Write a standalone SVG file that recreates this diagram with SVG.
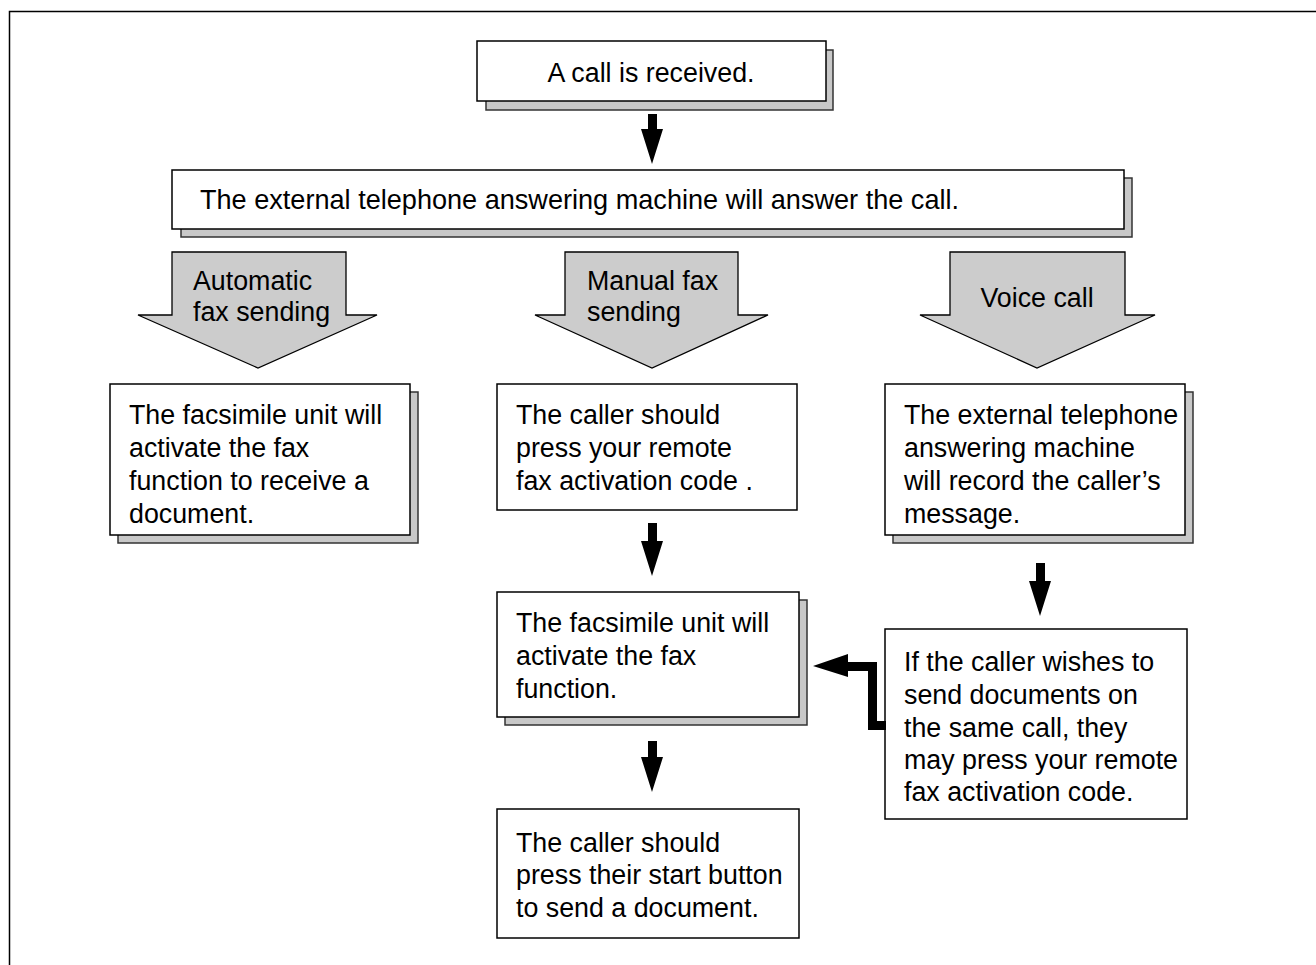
<svg xmlns="http://www.w3.org/2000/svg" width="1316" height="965" viewBox="0 0 1316 965">
<style>
text{font-family:"Liberation Sans",Arial,sans-serif;font-size:26.8px;fill:#000}
.box{fill:#fff;stroke:#000;stroke-width:1.5}
.sh{fill:#c8c8c8;stroke:#333;stroke-width:1.5}
.blk{fill:#cccccc;stroke:#000;stroke-width:1.3;stroke-linejoin:miter}
.arr{fill:#000}
</style>
<rect x="9.5" y="11.5" width="1330" height="980" fill="#fff" stroke="#000" stroke-width="1.5"/>
<g id="n1">
<rect class="sh" x="486" y="50" width="347" height="60"/>
<rect class="box" x="477" y="41" width="349" height="60"/>
<text x="651" y="82" text-anchor="middle">A call is received.</text>
</g>
<g id="n2">
<rect class="sh" x="181" y="178" width="951" height="59"/>
<rect class="box" x="172" y="170" width="952" height="59"/>
<text x="200" y="209" style="font-size:27.1px">The external telephone answering machine will answer the call.</text>
</g>
<g id="b1">
<polygon class="blk" points="172,252 346,252 346,315 377,315 258,368 138,315 172,315"/>
<text x="193" y="290">Automatic</text>
<text x="193" y="321">fax sending</text>
</g>
<g id="b2">
<polygon class="blk" points="565,252 738,252 738,315 768,315 652,368 535,315 565,315"/>
<text x="587" y="290">Manual fax</text>
<text x="587" y="321">sending</text>
</g>
<g id="b3">
<polygon class="blk" points="950,252 1125,252 1125,315 1155,315 1037,368 920,315 950,315"/>
<text x="1037" y="307" text-anchor="middle">Voice call</text>
</g>
<g id="nA">
<rect class="sh" x="118" y="392" width="300" height="151"/>
<rect class="box" x="110" y="384" width="300" height="151"/>
<text x="129" y="424">The facsimile unit will</text>
<text x="129" y="457">activate the fax</text>
<text x="129" y="490">function to receive a</text>
<text x="129" y="523">document.</text>
</g>
<g id="nB">
<rect class="box" x="497" y="384" width="300" height="126"/>
<text x="516" y="424">The caller should</text>
<text x="516" y="457">press your remote</text>
<text x="516" y="490">fax activation code .</text>
</g>
<g id="nC">
<rect class="sh" x="893" y="392" width="300" height="151"/>
<rect class="box" x="885" y="384" width="300" height="151"/>
<text x="904" y="424">The external telephone</text>
<text x="904" y="457">answering machine</text>
<text x="904" y="490">will record the caller’s</text>
<text x="904" y="523">message.</text>
</g>
<g id="nD">
<rect class="sh" x="505" y="600" width="302" height="125"/>
<rect class="box" x="497" y="592" width="302" height="125"/>
<text x="516" y="632">The facsimile unit will</text>
<text x="516" y="665">activate the fax</text>
<text x="516" y="698">function.</text>
</g>
<g id="nE">
<rect class="box" x="885" y="629" width="302" height="190"/>
<text x="904" y="671">If the caller wishes to</text>
<text x="904" y="704">send documents on</text>
<text x="904" y="737">the same call, they</text>
<text x="904" y="769">may press your remote</text>
<text x="904" y="801">fax activation code.</text>
</g>
<g id="nF">
<rect class="box" x="497" y="809" width="302" height="129"/>
<text x="516" y="852">The caller should</text>
<text x="516" y="884">press their start button</text>
<text x="516" y="917">to send a document.</text>
</g>
<g id="connectors">
<polygon class="arr" points="648,114 657,114 657,129 663,129 652,164 641,129 648,129"/>
<polygon class="arr" points="648,523 657,523 657,541 663,541 652,576 641,541 648,541"/>
<polygon class="arr" points="648,741 657,741 657,757 663,757 652,792 641,757 648,757"/>
<polygon class="arr" points="1036,563 1045,563 1045,581 1051,581 1040,616 1029,581 1036,581"/>
<polygon class="arr" points="886,721 886,730 868,730 868,671 848,671 848,677 813,666 848,654 848,662 877,662 877,721"/>
</g>
</svg>
